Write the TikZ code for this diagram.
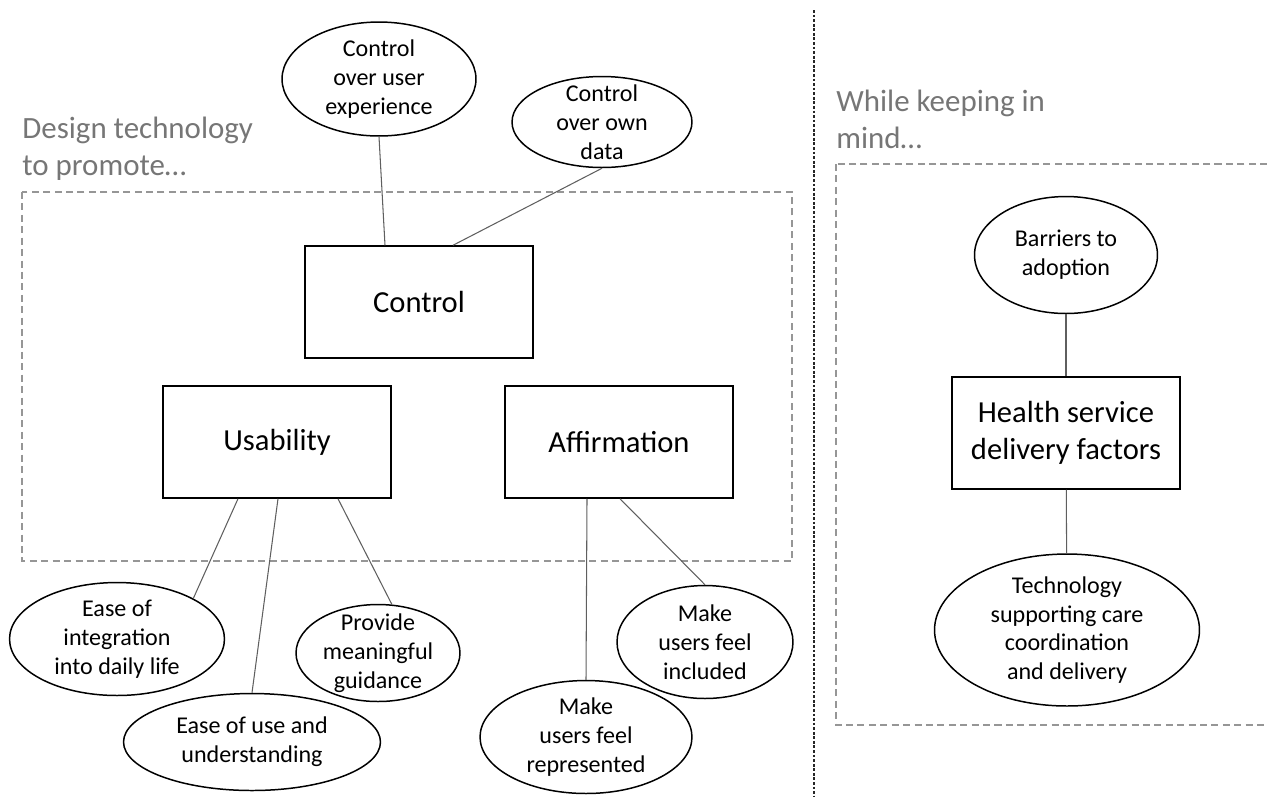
\documentclass[tikz,border=0pt]{standalone}
\usepackage{fontspec}
\setmainfont{Carlito}
\usepackage{tikz}
\usetikzlibrary{calc,shapes.geometric}
\definecolor{heading}{RGB}{118,118,118}
\definecolor{frame}{RGB}{150,150,150}
\definecolor{link}{RGB}{95,95,95}
\tikzset{
  factor/.style={draw=black, line width=0.85pt, fill=white, align=center,
    minimum width=4.56cm, minimum height=2.24cm, inner sep=2pt,
    font=\fontsize{17.4}{21}\selectfont},
  bubble/.style={draw=black, line width=0.85pt, ellipse, fill=white, align=center,
    inner sep=-4pt, font=\fontsize{13.7}{16.4}\selectfont},
  zone/.style={draw=frame, line width=0.7pt, dash pattern=on 4pt off 2.5pt},
  divider/.style={draw=black!85, line width=0.9pt, dash pattern=on 1.6pt off 1pt},
  tie/.style={draw=link, line width=0.6pt},
  hdr/.style={text=heading, align=left, anchor=north west, inner sep=0pt,
    font=\fontsize{17.6}{21}\selectfont}
}
\begin{document}
\begin{tikzpicture}[x=0.02cm, y=-0.02cm]
  \clip (0,0) rectangle (1267,796);
  % frames
  \draw[zone] (22,192) rectangle (792,561);
  \draw[zone] (836,164) rectangle (1290,725);
  \draw[divider] (814,10) -- (814,800);
  \node[hdr] (promote) at (22,117) {Design technology\\to promote…};
  \node[hdr] (mind) at (836,90) {While keeping in\\mind…};

  % factors
  \node[factor] (ctrl)   at (419,302) {Control};
  \node[factor] (usab)   at (277,442) {Usability};
  \node[factor] (affirm) at (619,442) {Affirmation};
  \node[factor] (health) at (1066,433) {Health service\\delivery factors};

  % sub-themes
  \node[bubble, minimum width=3.88cm, minimum height=2.28cm] (userxp) at (379,79) {Control\\over user\\experience};
  \node[bubble, minimum width=3.6cm, minimum height=1.82cm] (owndata) at (602,122) {Control\\over own\\data};
  \node[bubble, minimum width=4.3cm, minimum height=2.26cm] (integr) at (117,639) {Ease of\\integration\\into daily life};
  \node[bubble, minimum width=5.14cm, minimum height=1.94cm] (easeuse) at (252,742) {Ease of use and\\understanding};
  \node[bubble, minimum width=3.28cm, minimum height=1.94cm] (guidance) at (378,653) {Provide\\meaningful\\guidance};
  \node[bubble, minimum width=3.52cm, minimum height=2.26cm] (included) at (705,642) {Make\\users feel\\included};
  \node[bubble, minimum width=4.24cm, minimum height=2.26cm] (represented) at (586,737) {Make\\users feel\\represented};
  \node[bubble, minimum width=3.66cm, minimum height=2.34cm] (barriers) at (1066,255) {Barriers to\\adoption};
  \node[bubble, minimum width=5.3cm, minimum height=3.04cm] (caretech) at (1067,630) {Technology\\supporting care\\coordination\\and delivery};

  \draw[tie] (userxp.south) -- ($(ctrl.north)+(-34,0)$);
  \draw[tie] (owndata.south) -- ($(ctrl.north)+(34,0)$);
  \draw[tie] ($(usab.south)+(-39,0)$) -- (integr.28);
  \draw[tie] ($(usab.south)+(1,0)$) -- (easeuse.north);
  \draw[tie] ($(usab.south)+(61,0)$) -- (guidance.74);
  \draw[tie] ($(affirm.south)+(-32,0)$) -- (represented.north);
  \draw[tie] ($(affirm.south)+(1,0)$) -- (included.north);
  \draw[tie] (barriers) -- (health);
  \draw[tie] (health) -- (caretech);
\end{tikzpicture}
\end{document}
